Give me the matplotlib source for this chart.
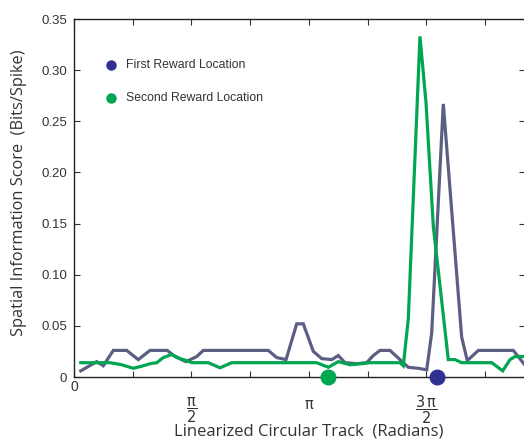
import numpy as np
import matplotlib
matplotlib.use("Agg")
import matplotlib.pyplot as plt

# positions along the linearized track (radians) and information scores
first_x = [0.090, 0.304, 0.392, 0.526, 0.705, 0.860, 1.017, 1.248, 1.351, 1.499,
           1.642, 1.730, 2.600, 2.712, 2.837, 2.980, 3.068, 3.202, 3.314, 3.448,
           3.536, 3.626, 3.783, 3.916, 4.005, 4.094, 4.228, 4.362, 4.473, 4.607,
           4.719, 4.786, 4.941, 5.187, 5.262, 5.410, 5.878, 6.030]
first_y = [0.006, 0.015, 0.011, 0.026, 0.026, 0.017, 0.026, 0.026, 0.020, 0.015,
           0.020, 0.026, 0.026, 0.019, 0.017, 0.052, 0.052, 0.025, 0.018, 0.017,
           0.021, 0.014, 0.013, 0.014, 0.021, 0.026, 0.026, 0.017, 0.0095, 0.0085,
           0.007, 0.043, 0.267, 0.039, 0.016, 0.026, 0.026, 0.012]

second_x = [0.090, 0.482, 0.638, 0.793, 0.927, 1.017, 1.107, 1.195, 1.307, 1.418,
            1.508, 1.575, 1.797, 1.953, 2.110, 3.247, 3.403, 3.536, 3.693, 3.849,
            3.960, 4.362, 4.406, 4.473, 4.629, 4.710, 4.808, 5.008, 5.098, 5.187,
            5.589, 5.736, 5.834, 5.901, 6.030]
second_y = [0.014, 0.014, 0.012, 0.0085, 0.011, 0.013, 0.014, 0.019, 0.022, 0.018,
            0.016, 0.014, 0.014, 0.009, 0.014, 0.014, 0.0095, 0.015, 0.012, 0.013,
            0.014, 0.014, 0.011, 0.057, 0.333, 0.268, 0.147, 0.017, 0.017, 0.014,
            0.014, 0.006, 0.017, 0.020, 0.020]

reward_x = [4.853, 3.403]   # first, second
series_names = ["First Reward Location", "Second Reward Location"]
line_colors = ["#5b5f83", "#00a651"]
dot_colors = ["#2e3192", "#00a651"]

xtick_pos = [0, np.pi / 2, np.pi, 3 * np.pi / 2]
xtick_text = ["0", r"$\dfrac{\mathrm{\pi}}{2}$", r"$\mathrm{\pi}$", r"$\dfrac{3\,\mathrm{\pi}}{2}$"]
xtick_ypos = [-0.010, -0.032, -0.027, -0.032]
ytick_pos = [0, 0.05, 0.10, 0.15, 0.20, 0.25, 0.30, 0.35]
ytick_text = ["0", "0.05", "0.10", "0.15", "0.20", "0.25", "0.30", "0.35"]

plt.rcParams["mathtext.fontset"] = "dejavusans"

fig = plt.figure(figsize=(5.24, 4.43), dpi=100)
ax = fig.add_axes([74 / 524, 1 - 377 / 443, 451 / 524, 358 / 443])

ax.plot(first_x, first_y, color=line_colors[0], lw=2.3, solid_joinstyle="miter", zorder=3)
ax.plot(second_x, second_y, color=line_colors[1], lw=2.3, solid_joinstyle="miter", zorder=3)

for rx, c in zip(reward_x, dot_colors):
    ax.plot(rx, 0, "o", ms=10.5, color=c, clip_on=False, zorder=5)

x_right = 451 / 58.7 * np.pi / 4
ax.set_xlim(0, x_right)
ax.set_ylim(0, 0.35)

ax.set_xticks(np.arange(0, 8) * np.pi / 4)
ax.set_xticklabels([])
ax.set_yticks(ytick_pos)
ax.set_yticklabels(ytick_text, fontfamily="Liberation Sans", fontsize=9.5, color="#333333")
ax.tick_params(direction="in", length=4, width=0.8, top=True, right=True, color="#333333")
ax.tick_params(axis="y", pad=5)
for s in ax.spines.values():
    s.set_color("#222222")
    s.set_linewidth(1.0)

for xp, t, yp in zip(xtick_pos, xtick_text, xtick_ypos):
    if t == "0":
        ax.text(xp, yp, t, ha="center", va="center", fontsize=10,
                fontfamily="Liberation Sans", color="#333333")
    else:
        ax.text(xp, yp, t, ha="center", va="center", fontsize=10.5, color="#333333")

ax.text(0.52, (377 - 432) / 358, "Linearized Circular Track  (Radians)",
        transform=ax.transAxes, ha="center", va="center", fontsize=12,
        fontfamily="Open Sans", color="#333333")
fig.text(19 / 524, 1 - 193 / 443, "Spatial Information Score  (Bits/Spike)",
         rotation=90, ha="center", va="center", fontsize=11.8,
         fontfamily="Open Sans", color="#333333")

# legend drawn by hand
leg_y = [65, 98]
for name, c, py in zip(series_names, dot_colors, leg_y):
    ax.plot((111 - 74) / 451, (377 - py) / 358, "o", ms=6.5, color=c,
            transform=ax.transAxes, clip_on=False)
    ax.text((126 - 74) / 451, (377 - py) / 358, name, transform=ax.transAxes,
            ha="left", va="center", fontsize=8.8, fontfamily="Liberation Sans",
            color="#333333")

fig.savefig("out.png", dpi=100)
